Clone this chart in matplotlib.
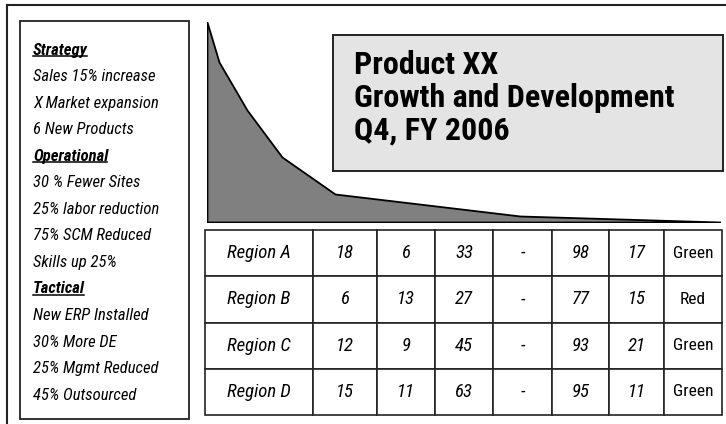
import matplotlib
matplotlib.use('Agg')
import matplotlib.pyplot as plt
from matplotlib.patches import Rectangle

# data
area_x = [0, 12, 40, 75, 128, 313, 513]
area_y = [200, 160, 112, 65, 28, 6, 0]

notes = ['Strategy', 'Sales 15% increase', 'X Market expansion', '6 New Products',
         'Operational', '30 % Fewer Sites', '25% labor reduction', '75% SCM Reduced',
         'Skills up 25%', 'Tactical', 'New ERP Installed', '30% More DE',
         '25% Mgmt Reduced', '45% Outsourced']
headings = ['Strategy', 'Operational', 'Tactical']

title_lines = ['Product XX', 'Growth and Development', 'Q4, FY 2006']

regions = ['Region A', 'Region B', 'Region C', 'Region D']
col1 = ['18', '6', '12', '15']
col2 = ['6', '13', '9', '11']
col3 = ['33', '27', '45', '63']
col4 = ['-', '-', '-', '-']
col5 = ['98', '77', '93', '95']
col6 = ['17', '15', '21', '11']
status = ['Green', 'Red', 'Green', 'Green']

plt.rcParams['font.family'] = ['Roboto Condensed', 'DejaVu Sans']

W, H = 726, 424
fig = plt.figure(figsize=(W / 100, H / 100), dpi=100)
ax = fig.add_axes([0, 0, 1, 1])
ax.set_xlim(0, W)
ax.set_ylim(H, 0)
ax.axis('off')

# outer frame (only top and left show)
ax.plot([7, W], [5, 5], color='#222222', lw=1.5)
ax.plot([7, 7], [5, H], color='#222222', lw=1.5)

# left notes box
ax.add_patch(Rectangle((20, 21), 169, 398, fill=False, ec='#222222', lw=1.3))
fig.canvas.draw()
for i, s in enumerate(notes):
    yc = 50 + 26.55 * i
    if s in headings:
        t = ax.text(33, yc, s, fontsize=12, fontweight='bold', fontstyle='italic',
                    va='center', ha='left')
        fig.canvas.draw()
        bb = t.get_window_extent().transformed(ax.transData.inverted())
        ax.plot([bb.x0, bb.x1 - 1], [yc + 6, yc + 6], color='black', lw=1.1)
    else:
        ax.text(33, yc, s, fontsize=12, fontstyle='italic', va='center', ha='left')

# area chart
ax2 = fig.add_axes([207 / W, 1 - 222 / H, (720 - 207) / W, 200 / H])
ax2.fill_between(area_x, area_y, 0, facecolor='#808080', edgecolor='black', lw=1.3)
ax2.set_xlim(0, 513)
ax2.set_ylim(0, 200)
ax2.axis('off')

# title box over the chart
ax3 = fig.add_axes([0, 0, 1, 1], zorder=3)
ax3.set_xlim(0, W)
ax3.set_ylim(H, 0)
ax3.axis('off')
ax3.add_patch(Rectangle((333, 35), 390, 136, fc='#e4e4e4', ec='#222222', lw=1.4))
for i, s in enumerate(title_lines):
    ax3.text(354, 74 + 33 * i, s, fontsize=23, fontweight='bold',
             va='baseline', ha='left')

# table
rows = list(zip(regions, col1, col2, col3, col4, col5, col6, status))
edges = [205, 313, 377, 435, 493, 552, 609, 664, 722]
widths = [(edges[i + 1] - edges[i]) / (edges[-1] - edges[0]) for i in range(8)]
tbl = ax.table(cellText=rows, colWidths=widths, cellLoc='center',
               bbox=[205 / W, 1 - 415 / H, (722 - 205) / W, 185 / H])
tbl.auto_set_font_size(False)
for (r, c), cell in tbl.get_celld().items():
    cell.set_linewidth(1.2)
    cell.set_edgecolor('#222222')
    if c < 7:
        cell.get_text().set_fontstyle('italic')
        cell.get_text().set_fontsize(13.5)
    else:
        cell.get_text().set_fontsize(12.5)

fig.savefig('out.png', dpi=100)
